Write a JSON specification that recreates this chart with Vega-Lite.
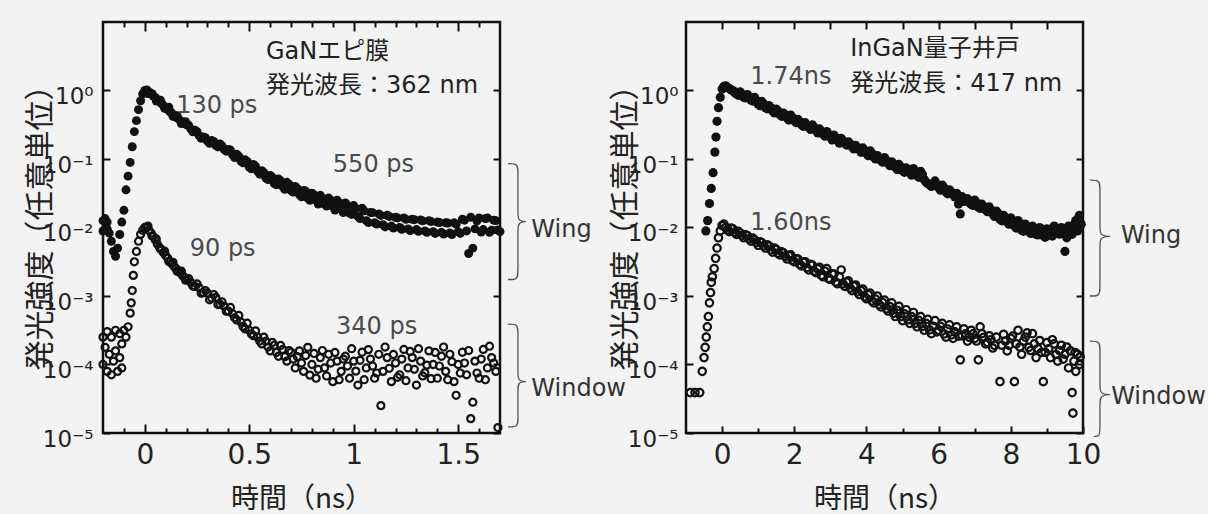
{
"$schema":"https://vega.github.io/schema/vega-lite/v6.json",
"background":"#f3f3f3",
"padding":{"left":23,"top":19,"right":0,"bottom":0},
"bounds":"flush",
"spacing":186,
"config":{"view":{"stroke":"#111","strokeWidth":2.5},"axis":{"domain":false,"grid":false,"tickColor":"#111","labelColor":"#222","labelFont":"DejaVu Sans","titleColor":"#222","titleFont":"Noto Sans CJK JP","titleFontWeight":"normal"}},
"datasets":{
"lw":[{"x":-0.2,"y":0.0126},{"x":-0.2,"y":0.0089},{"x":-0.19,"y":0.00955},{"x":-0.19,"y":0.0135},{"x":-0.18,"y":0.012},{"x":-0.18,"y":0.0095},{"x":-0.17,"y":0.0083},{"x":-0.16,"y":0.0063},{"x":-0.15,"y":0.00447},{"x":-0.14,"y":0.0038},{"x":-0.13,"y":0.005},{"x":-0.12,"y":0.0079},{"x":-0.11,"y":0.012},{"x":-0.1,"y":0.0178},{"x":-0.09,"y":0.0355},{"x":-0.08,"y":0.0562},{"x":-0.07,"y":0.0891},{"x":-0.06,"y":0.151},{"x":-0.05,"y":0.251},{"x":-0.04,"y":0.363},{"x":-0.03,"y":0.525},{"x":-0.02,"y":0.708},{"x":-0.01,"y":0.891},{"x":0,"y":1.0},{"x":0.01,"y":1.02},{"x":0.02,"y":0.955},{"x":0.03,"y":0.891},{"x":0.04,"y":0.832},{"x":0.05,"y":0.794},{"x":0.06,"y":0.741},{"x":0.07,"y":0.692},{"x":0.08,"y":0.646},{"x":0.09,"y":0.603},{"x":0.1,"y":0.562},{"x":0.11,"y":0.525},{"x":0.12,"y":0.49},{"x":0.13,"y":0.468},{"x":0.14,"y":0.437},{"x":0.15,"y":0.407},{"x":0.16,"y":0.389},{"x":0.17,"y":0.363},{"x":0.18,"y":0.347},{"x":0.19,"y":0.331},{"x":0.2,"y":0.316},{"x":0.22,"y":0.275},{"x":0.24,"y":0.263},{"x":0.26,"y":0.219},{"x":0.28,"y":0.209},{"x":0.3,"y":0.182},{"x":0.32,"y":0.186},{"x":0.34,"y":0.158},{"x":0.36,"y":0.166},{"x":0.38,"y":0.138},{"x":0.4,"y":0.138},{"x":0.42,"y":0.115},{"x":0.44,"y":0.117},{"x":0.46,"y":0.0933},{"x":0.48,"y":0.0977},{"x":0.5,"y":0.0759},{"x":0.52,"y":0.0832},{"x":0.54,"y":0.0661},{"x":0.56,"y":0.0676},{"x":0.58,"y":0.0525},{"x":0.6,"y":0.0575},{"x":0.62,"y":0.0437},{"x":0.64,"y":0.0513},{"x":0.66,"y":0.0398},{"x":0.68,"y":0.0457},{"x":0.7,"y":0.0347},{"x":0.72,"y":0.0398},{"x":0.74,"y":0.0302},{"x":0.76,"y":0.0347},{"x":0.78,"y":0.0269},{"x":0.8,"y":0.0316},{"x":0.82,"y":0.0251},{"x":0.84,"y":0.0295},{"x":0.86,"y":0.0219},{"x":0.88,"y":0.0269},{"x":0.9,"y":0.0204},{"x":0.92,"y":0.0251},{"x":0.94,"y":0.0186},{"x":0.96,"y":0.0229},{"x":0.98,"y":0.0162},{"x":1.0,"y":0.0209},{"x":1.02,"y":0.0145},{"x":1.04,"y":0.0191},{"x":1.06,"y":0.0126},{"x":1.08,"y":0.0166},{"x":1.1,"y":0.0117},{"x":1.12,"y":0.0158},{"x":1.14,"y":0.011},{"x":1.16,"y":0.0151},{"x":1.18,"y":0.0105},{"x":1.2,"y":0.0141},{"x":1.22,"y":0.01},{"x":1.24,"y":0.0138},{"x":1.26,"y":0.00955},{"x":1.28,"y":0.0132},{"x":1.3,"y":0.00933},{"x":1.32,"y":0.0129},{"x":1.34,"y":0.00891},{"x":1.36,"y":0.0126},{"x":1.38,"y":0.00871},{"x":1.4,"y":0.012},{"x":1.42,"y":0.00851},{"x":1.44,"y":0.0117},{"x":1.46,"y":0.00832},{"x":1.48,"y":0.0117},{"x":1.5,"y":0.00871},{"x":1.52,"y":0.0132},{"x":1.54,"y":0.00891},{"x":1.55,"y":0.00417},{"x":1.56,"y":0.0141},{"x":1.57,"y":0.005},{"x":1.58,"y":0.00955},{"x":1.6,"y":0.0138},{"x":1.62,"y":0.00933},{"x":1.64,"y":0.0138},{"x":1.66,"y":0.00912},{"x":1.68,"y":0.0126},{"x":1.7,"y":0.00871},
{"x":0.015,"y":0.9},{"x":0.035,"y":0.9},{"x":0.055,"y":0.7},{"x":0.075,"y":0.72},{"x":0.095,"y":0.55},{"x":0.115,"y":0.57},{"x":0.135,"y":0.42},{"x":0.155,"y":0.43},{"x":0.175,"y":0.33},{"x":0.195,"y":0.35},{"x":0.21,"y":0.31},{"x":0.23,"y":0.25},{"x":0.25,"y":0.25},{"x":0.27,"y":0.2},{"x":0.29,"y":0.205},{"x":0.31,"y":0.17},{"x":0.33,"y":0.18},{"x":0.35,"y":0.15},{"x":0.37,"y":0.155},{"x":0.39,"y":0.13},{"x":0.41,"y":0.135},{"x":0.43,"y":0.105},{"x":0.45,"y":0.11},{"x":0.47,"y":0.088},{"x":0.49,"y":0.092},{"x":0.51,"y":0.072},{"x":0.53,"y":0.078},{"x":0.55,"y":0.06},{"x":0.57,"y":0.063},{"x":0.59,"y":0.05},{"x":0.61,"y":0.054},{"x":0.63,"y":0.042},{"x":0.65,"y":0.048},{"x":0.67,"y":0.036},{"x":0.69,"y":0.043},{"x":0.71,"y":0.033},{"x":0.73,"y":0.037},{"x":0.75,"y":0.028},{"x":0.77,"y":0.034},{"x":0.79,"y":0.025},{"x":0.81,"y":0.03},{"x":0.83,"y":0.022},{"x":0.85,"y":0.027},{"x":0.87,"y":0.0205},{"x":0.89,"y":0.025},{"x":0.91,"y":0.018},{"x":0.93,"y":0.023},{"x":0.95,"y":0.0165},{"x":0.97,"y":0.021},{"x":0.99,"y":0.0155},{"x":1.01,"y":0.019},{"x":1.03,"y":0.0135},{"x":1.05,"y":0.0175},{"x":1.07,"y":0.0118},{"x":1.09,"y":0.0165},{"x":1.11,"y":0.0112},{"x":1.13,"y":0.015},{"x":1.15,"y":0.0102},{"x":1.17,"y":0.0145},{"x":1.19,"y":0.0098},{"x":1.21,"y":0.0138},{"x":1.23,"y":0.0094},{"x":1.25,"y":0.0132},{"x":1.27,"y":0.009},{"x":1.29,"y":0.013},{"x":1.31,"y":0.0088},{"x":1.33,"y":0.0125},{"x":1.35,"y":0.0085},{"x":1.37,"y":0.0122},{"x":1.39,"y":0.0082},{"x":1.41,"y":0.0118},{"x":1.43,"y":0.008},{"x":1.45,"y":0.0116},{"x":1.47,"y":0.0079},{"x":1.49,"y":0.0112},{"x":1.51,"y":0.0082},{"x":1.53,"y":0.0128},{"x":1.59,"y":0.0125},{"x":1.61,"y":0.0086},{"x":1.63,"y":0.0135},{"x":1.65,"y":0.0085},{"x":1.67,"y":0.0128},{"x":1.69,"y":0.0092}],
"lo":[{"x":-0.2,"y":0.000251},{"x":-0.2,"y":0.0001},{"x":-0.19,"y":0.000178},{"x":-0.18,"y":0.000302},{"x":-0.18,"y":0.0000794},{"x":-0.17,"y":0.000141},{"x":-0.16,"y":0.000251},{"x":-0.16,"y":0.0000708},{"x":-0.15,"y":0.000112},{"x":-0.14,"y":0.000316},{"x":-0.14,"y":0.000158},{"x":-0.13,"y":0.0000794},{"x":-0.12,"y":0.000282},{"x":-0.12,"y":0.000126},{"x":-0.11,"y":0.0002},{"x":-0.11,"y":0.0000891},{"x":-0.1,"y":0.000316},{"x":-0.09,"y":0.000251},{"x":-0.08,"y":0.000355},{"x":-0.07,"y":0.000562},{"x":-0.065,"y":0.000794},{"x":-0.06,"y":0.0012},{"x":-0.055,"y":0.002},{"x":-0.05,"y":0.00316},{"x":-0.04,"y":0.00447},{"x":-0.03,"y":0.00631},{"x":-0.02,"y":0.00794},{"x":-0.01,"y":0.00912},{"x":0,"y":0.01},{"x":0.01,"y":0.01},{"x":0.02,"y":0.00912},{"x":0.03,"y":0.00832},{"x":0.04,"y":0.00741},{"x":0.05,"y":0.00661},{"x":0.06,"y":0.00575},{"x":0.07,"y":0.00513},{"x":0.08,"y":0.00468},{"x":0.09,"y":0.00427},{"x":0.1,"y":0.00389},{"x":0.11,"y":0.00355},{"x":0.12,"y":0.00316},{"x":0.13,"y":0.00295},{"x":0.14,"y":0.00269},{"x":0.15,"y":0.00251},{"x":0.16,"y":0.00229},{"x":0.17,"y":0.00219},{"x":0.18,"y":0.002},{"x":0.19,"y":0.00186},{"x":0.2,"y":0.00174},{"x":0.22,"y":0.00158},{"x":0.24,"y":0.00138},{"x":0.26,"y":0.00132},{"x":0.28,"y":0.00112},{"x":0.3,"y":0.0011},{"x":0.32,"y":0.000933},{"x":0.34,"y":0.000955},{"x":0.36,"y":0.000759},{"x":0.38,"y":0.000708},{"x":0.4,"y":0.000603},{"x":0.42,"y":0.00055},{"x":0.44,"y":0.000447},{"x":0.46,"y":0.000417},{"x":0.48,"y":0.000331},{"x":0.5,"y":0.000316},{"x":0.52,"y":0.000263},{"x":0.54,"y":0.000251},{"x":0.56,"y":0.0002},{"x":0.58,"y":0.000219},{"x":0.6,"y":0.000158},{"x":0.62,"y":0.000191},{"x":0.64,"y":0.000132},{"x":0.66,"y":0.000166},{"x":0.68,"y":0.000112},{"x":0.7,"y":0.000151},{"x":0.72,"y":0.0000891},{"x":0.74,"y":0.000158},{"x":0.76,"y":0.0000794},{"x":0.78,"y":0.000178},{"x":0.8,"y":0.0001},{"x":0.82,"y":0.0000631},{"x":0.84,"y":0.000126},{"x":0.86,"y":0.0000891},{"x":0.88,"y":0.000141},{"x":0.9,"y":0.0000562},{"x":0.92,"y":0.000112},{"x":0.94,"y":0.0000794},{"x":0.96,"y":0.000132},{"x":0.98,"y":0.0000631},{"x":1.0,"y":0.000112},{"x":1.02,"y":0.0000501},{"x":1.04,"y":0.000151},{"x":1.06,"y":0.0000891},{"x":1.08,"y":0.00012},{"x":1.1,"y":0.0000631},{"x":1.12,"y":0.000141},{"x":1.13,"y":0.0000251},{"x":1.14,"y":0.0000794},{"x":1.16,"y":0.000126},{"x":1.18,"y":0.0000562},{"x":1.2,"y":0.000105},{"x":1.22,"y":0.0000708},{"x":1.24,"y":0.000166},{"x":1.26,"y":0.0000891},{"x":1.28,"y":0.000126},{"x":1.3,"y":0.0000501},{"x":1.32,"y":0.000112},{"x":1.34,"y":0.0000759},{"x":1.36,"y":0.000158},{"x":1.38,"y":0.0001},{"x":1.4,"y":0.0000631},{"x":1.42,"y":0.000132},{"x":1.44,"y":0.0000794},{"x":1.46,"y":0.000141},{"x":1.48,"y":0.0000562},{"x":1.49,"y":0.0000355},{"x":1.5,"y":0.0001},{"x":1.52,"y":0.000151},{"x":1.54,"y":0.0000708},{"x":1.56,"y":0.0000162},{"x":1.57,"y":0.0000282},{"x":1.58,"y":0.000112},{"x":1.6,"y":0.0000631},{"x":1.62,"y":0.000166},{"x":1.64,"y":0.0000891},{"x":1.66,"y":0.000126},{"x":1.68,"y":0.0000794},{"x":1.69,"y":0.000012},
{"x":0.015,"y":0.0105},{"x":0.035,"y":0.0075},{"x":0.055,"y":0.0068},{"x":0.075,"y":0.0049},{"x":0.095,"y":0.0045},{"x":0.115,"y":0.0032},{"x":0.135,"y":0.0031},{"x":0.155,"y":0.0023},{"x":0.175,"y":0.0023},{"x":0.195,"y":0.0017},{"x":0.21,"y":0.0018},{"x":0.23,"y":0.0014},{"x":0.25,"y":0.0015},{"x":0.27,"y":0.0011},{"x":0.29,"y":0.0012},{"x":0.31,"y":0.00088},{"x":0.33,"y":0.00105},{"x":0.35,"y":0.00075},{"x":0.37,"y":0.00082},{"x":0.39,"y":0.0006},{"x":0.41,"y":0.00068},{"x":0.43,"y":0.00048},{"x":0.45,"y":0.00052},{"x":0.47,"y":0.00036},{"x":0.49,"y":0.0004},{"x":0.51,"y":0.00028},{"x":0.53,"y":0.00031},{"x":0.55,"y":0.00022},{"x":0.57,"y":0.00025},{"x":0.59,"y":0.00018},{"x":0.61,"y":0.00021},{"x":0.63,"y":0.00015},{"x":0.65,"y":0.00019},{"x":0.67,"y":0.00013},{"x":0.69,"y":0.00016},{"x":0.71,"y":0.00012},{"x":0.73,"y":0.00013},{"x":0.75,"y":0.000105},{"x":0.77,"y":0.000135},{"x":0.79,"y":0.00007},{"x":0.81,"y":0.000145},{"x":0.83,"y":0.000085},{"x":0.85,"y":0.00016},{"x":0.87,"y":0.000068},{"x":0.89,"y":0.000105},{"x":0.91,"y":0.00015},{"x":0.93,"y":0.00006},{"x":0.95,"y":0.00012},{"x":0.97,"y":0.000095},{"x":0.99,"y":0.00017},{"x":1.01,"y":0.00008},{"x":1.03,"y":0.000115},{"x":1.05,"y":0.00006},{"x":1.07,"y":0.000165},{"x":1.09,"y":0.000095},{"x":1.11,"y":0.000075},{"x":1.15,"y":0.00018},{"x":1.17,"y":0.000088},{"x":1.19,"y":0.00014},{"x":1.21,"y":0.000065},{"x":1.23,"y":0.00012},{"x":1.25,"y":0.000058},{"x":1.27,"y":0.000155},{"x":1.29,"y":0.000085},{"x":1.31,"y":0.00017},{"x":1.33,"y":0.000068},{"x":1.35,"y":0.000098},{"x":1.37,"y":0.000062},{"x":1.39,"y":0.00015},{"x":1.41,"y":0.000095},{"x":1.43,"y":0.00018},{"x":1.45,"y":0.00006},{"x":1.47,"y":0.00011},{"x":1.51,"y":0.000075},{"x":1.53,"y":0.000105},{"x":1.55,"y":0.00016},{"x":1.59,"y":0.000075},{"x":1.61,"y":0.00012},{"x":1.63,"y":0.00006},{"x":1.65,"y":0.000185},{"x":1.67,"y":0.000105}],
"rw":[{"x":-0.45,"y":0.00891},{"x":-0.4,"y":0.0126},{"x":-0.35,"y":0.0224},{"x":-0.3,"y":0.0372},{"x":-0.25,"y":0.0631},{"x":-0.2,"y":0.126},{"x":-0.17,"y":0.209},{"x":-0.14,"y":0.355},{"x":-0.1,"y":0.562},{"x":-0.05,"y":0.794},{"x":0,"y":1.05},{"x":0.05,"y":1.15},{"x":0.1,"y":1.17},{"x":0.2,"y":1.07},{"x":0.3,"y":1.0},{"x":0.4,"y":0.891},{"x":0.5,"y":0.955},{"x":0.6,"y":0.794},{"x":0.7,"y":0.871},{"x":0.8,"y":0.724},{"x":0.9,"y":0.794},{"x":1.0,"y":0.631},{"x":1.1,"y":0.692},{"x":1.2,"y":0.562},{"x":1.3,"y":0.603},{"x":1.4,"y":0.501},{"x":1.5,"y":0.537},{"x":1.6,"y":0.447},{"x":1.7,"y":0.468},{"x":1.8,"y":0.398},{"x":1.9,"y":0.437},{"x":2.0,"y":0.363},{"x":2.1,"y":0.38},{"x":2.2,"y":0.316},{"x":2.3,"y":0.339},{"x":2.4,"y":0.288},{"x":2.5,"y":0.316},{"x":2.6,"y":0.263},{"x":2.7,"y":0.275},{"x":2.8,"y":0.229},{"x":2.9,"y":0.251},{"x":3.0,"y":0.209},{"x":3.1,"y":0.224},{"x":3.2,"y":0.186},{"x":3.3,"y":0.2},{"x":3.4,"y":0.17},{"x":3.5,"y":0.178},{"x":3.6,"y":0.151},{"x":3.7,"y":0.158},{"x":3.8,"y":0.138},{"x":3.9,"y":0.145},{"x":4.0,"y":0.12},{"x":4.1,"y":0.132},{"x":4.2,"y":0.107},{"x":4.3,"y":0.112},{"x":4.4,"y":0.0955},{"x":4.5,"y":0.105},{"x":4.6,"y":0.0871},{"x":4.7,"y":0.0912},{"x":4.8,"y":0.0759},{"x":4.9,"y":0.0832},{"x":5.0,"y":0.0676},{"x":5.1,"y":0.0741},{"x":5.2,"y":0.0631},{"x":5.3,"y":0.0724},{"x":5.4,"y":0.0575},{"x":5.5,"y":0.0661},{"x":5.6,"y":0.0501},{"x":5.7,"y":0.0437},{"x":5.8,"y":0.0398},{"x":5.9,"y":0.0479},{"x":6.0,"y":0.038},{"x":6.1,"y":0.0417},{"x":6.2,"y":0.0331},{"x":6.3,"y":0.0355},{"x":6.4,"y":0.0302},{"x":6.5,"y":0.0316},{"x":6.6,"y":0.0158},{"x":6.65,"y":0.0282},{"x":6.7,"y":0.024},{"x":6.8,"y":0.0263},{"x":6.9,"y":0.0219},{"x":7.0,"y":0.0251},{"x":7.1,"y":0.02},{"x":7.2,"y":0.0219},{"x":7.3,"y":0.0182},{"x":7.4,"y":0.02},{"x":7.5,"y":0.0158},{"x":7.6,"y":0.0174},{"x":7.7,"y":0.0132},{"x":7.8,"y":0.0151},{"x":7.9,"y":0.012},{"x":8.0,"y":0.0138},{"x":8.1,"y":0.0105},{"x":8.2,"y":0.0126},{"x":8.3,"y":0.00912},{"x":8.4,"y":0.0112},{"x":8.5,"y":0.00871},{"x":8.6,"y":0.0105},{"x":8.7,"y":0.00794},{"x":8.8,"y":0.01},{"x":8.9,"y":0.00759},{"x":9.0,"y":0.00955},{"x":9.1,"y":0.00794},{"x":9.2,"y":0.0105},{"x":9.3,"y":0.00832},{"x":9.4,"y":0.01},{"x":9.5,"y":0.00447},{"x":9.55,"y":0.00708},{"x":9.6,"y":0.0105},{"x":9.7,"y":0.00794},{"x":9.8,"y":0.0126},{"x":9.85,"y":0.00891},{"x":9.9,"y":0.0151},{"x":9.95,"y":0.0112},
{"x":0.15,"y":1.1},{"x":0.25,"y":1.02},{"x":0.35,"y":0.93},{"x":0.45,"y":0.85},{"x":0.55,"y":0.88},{"x":0.65,"y":0.78},{"x":0.75,"y":0.8},{"x":0.85,"y":0.7},{"x":0.95,"y":0.72},{"x":1.05,"y":0.6},{"x":1.15,"y":0.64},{"x":1.25,"y":0.54},{"x":1.35,"y":0.56},{"x":1.45,"y":0.47},{"x":1.55,"y":0.5},{"x":1.65,"y":0.42},{"x":1.75,"y":0.44},{"x":1.85,"y":0.37},{"x":1.95,"y":0.4},{"x":2.05,"y":0.34},{"x":2.15,"y":0.35},{"x":2.25,"y":0.3},{"x":2.35,"y":0.31},{"x":2.45,"y":0.27},{"x":2.55,"y":0.29},{"x":2.65,"y":0.24},{"x":2.75,"y":0.255},{"x":2.85,"y":0.215},{"x":2.95,"y":0.23},{"x":3.05,"y":0.19},{"x":3.15,"y":0.205},{"x":3.25,"y":0.17},{"x":3.35,"y":0.185},{"x":3.45,"y":0.16},{"x":3.55,"y":0.165},{"x":3.65,"y":0.14},{"x":3.75,"y":0.148},{"x":3.85,"y":0.125},{"x":3.95,"y":0.133},{"x":4.05,"y":0.112},{"x":4.15,"y":0.12},{"x":4.25,"y":0.1},{"x":4.35,"y":0.104},{"x":4.45,"y":0.09},{"x":4.55,"y":0.096},{"x":4.65,"y":0.08},{"x":4.75,"y":0.085},{"x":4.85,"y":0.07},{"x":4.95,"y":0.077},{"x":5.05,"y":0.064},{"x":5.15,"y":0.07},{"x":5.25,"y":0.058},{"x":5.35,"y":0.066},{"x":5.45,"y":0.054},{"x":5.55,"y":0.06},{"x":5.65,"y":0.046},{"x":5.75,"y":0.042},{"x":5.85,"y":0.044},{"x":5.95,"y":0.042},{"x":6.05,"y":0.035},{"x":6.15,"y":0.038},{"x":6.25,"y":0.031},{"x":6.35,"y":0.033},{"x":6.45,"y":0.028},{"x":6.55,"y":0.022},{"x":6.75,"y":0.025},{"x":6.85,"y":0.023},{"x":6.95,"y":0.021},{"x":7.05,"y":0.023},{"x":7.15,"y":0.019},{"x":7.25,"y":0.02},{"x":7.35,"y":0.017},{"x":7.45,"y":0.018},{"x":7.55,"y":0.0145},{"x":7.65,"y":0.016},{"x":7.75,"y":0.0125},{"x":7.85,"y":0.014},{"x":7.95,"y":0.0112},{"x":8.05,"y":0.0128},{"x":8.15,"y":0.0098},{"x":8.25,"y":0.0115},{"x":8.35,"y":0.0088},{"x":8.45,"y":0.0102},{"x":8.55,"y":0.0082},{"x":8.65,"y":0.0095},{"x":8.75,"y":0.0078},{"x":8.85,"y":0.0092},{"x":8.95,"y":0.0072},{"x":9.05,"y":0.0088},{"x":9.15,"y":0.0075},{"x":9.25,"y":0.0095},{"x":9.35,"y":0.008},{"x":9.45,"y":0.0085},{"x":9.65,"y":0.0092},{"x":9.75,"y":0.011},{"x":9.88,"y":0.0135}],
"ro":[{"x":-0.88,"y":0.0000389},{"x":-0.75,"y":0.0000389},{"x":-0.62,"y":0.0000389},{"x":-0.55,"y":0.0000794},{"x":-0.5,"y":0.000126},{"x":-0.47,"y":0.000178},{"x":-0.44,"y":0.000251},{"x":-0.41,"y":0.000355},{"x":-0.38,"y":0.000501},{"x":-0.35,"y":0.000794},{"x":-0.32,"y":0.00112},{"x":-0.3,"y":0.00158},{"x":-0.27,"y":0.00191},{"x":-0.22,"y":0.00251},{"x":-0.18,"y":0.00355},{"x":-0.14,"y":0.00501},{"x":-0.1,"y":0.00708},{"x":-0.05,"y":0.00891},{"x":0,"y":0.0107},{"x":0.05,"y":0.0112},{"x":0.1,"y":0.01},{"x":0.2,"y":0.00871},{"x":0.3,"y":0.00955},{"x":0.4,"y":0.00794},{"x":0.5,"y":0.00832},{"x":0.6,"y":0.00708},{"x":0.7,"y":0.00759},{"x":0.8,"y":0.00631},{"x":0.9,"y":0.00661},{"x":1.0,"y":0.0055},{"x":1.1,"y":0.00603},{"x":1.2,"y":0.00501},{"x":1.3,"y":0.00537},{"x":1.4,"y":0.00437},{"x":1.5,"y":0.00479},{"x":1.6,"y":0.00398},{"x":1.7,"y":0.00427},{"x":1.8,"y":0.00347},{"x":1.9,"y":0.00398},{"x":2.0,"y":0.00316},{"x":2.1,"y":0.00347},{"x":2.2,"y":0.00275},{"x":2.3,"y":0.00316},{"x":2.4,"y":0.0024},{"x":2.5,"y":0.00282},{"x":2.6,"y":0.00219},{"x":2.7,"y":0.00263},{"x":2.8,"y":0.00191},{"x":2.9,"y":0.00251},{"x":3.0,"y":0.00174},{"x":3.1,"y":0.00209},{"x":3.2,"y":0.00151},{"x":3.3,"y":0.0024},{"x":3.4,"y":0.00138},{"x":3.5,"y":0.00166},{"x":3.6,"y":0.0012},{"x":3.7,"y":0.00145},{"x":3.8,"y":0.00105},{"x":3.9,"y":0.00126},{"x":4.0,"y":0.000912},{"x":4.1,"y":0.0011},{"x":4.2,"y":0.000794},{"x":4.3,"y":0.001},{"x":4.4,"y":0.000692},{"x":4.5,"y":0.000871},{"x":4.6,"y":0.000603},{"x":4.7,"y":0.000794},{"x":4.8,"y":0.000501},{"x":4.9,"y":0.000708},{"x":5.0,"y":0.000437},{"x":5.1,"y":0.000631},{"x":5.2,"y":0.000398},{"x":5.3,"y":0.000575},{"x":5.4,"y":0.000355},{"x":5.5,"y":0.000501},{"x":5.6,"y":0.000316},{"x":5.7,"y":0.000457},{"x":5.8,"y":0.000282},{"x":5.9,"y":0.000437},{"x":6.0,"y":0.000316},{"x":6.1,"y":0.000398},{"x":6.2,"y":0.000251},{"x":6.3,"y":0.00038},{"x":6.4,"y":0.00024},{"x":6.5,"y":0.000355},{"x":6.6,"y":0.000117},{"x":6.65,"y":0.000263},{"x":6.7,"y":0.000331},{"x":6.8,"y":0.000219},{"x":6.9,"y":0.000316},{"x":7.0,"y":0.00024},{"x":7.1,"y":0.000117},{"x":7.15,"y":0.000355},{"x":7.2,"y":0.000282},{"x":7.3,"y":0.0002},{"x":7.4,"y":0.000263},{"x":7.5,"y":0.000174},{"x":7.6,"y":0.000251},{"x":7.7,"y":0.0000562},{"x":7.75,"y":0.000191},{"x":7.8,"y":0.000275},{"x":7.9,"y":0.000158},{"x":8.0,"y":0.00024},{"x":8.1,"y":0.0000562},{"x":8.15,"y":0.0002},{"x":8.2,"y":0.000316},{"x":8.3,"y":0.000141},{"x":8.4,"y":0.000251},{"x":8.5,"y":0.000178},{"x":8.6,"y":0.000282},{"x":8.7,"y":0.000126},{"x":8.8,"y":0.000224},{"x":8.9,"y":0.0000562},{"x":8.95,"y":0.000151},{"x":9.0,"y":0.000209},{"x":9.1,"y":0.000126},{"x":9.2,"y":0.0002},{"x":9.3,"y":0.000112},{"x":9.4,"y":0.000191},{"x":9.5,"y":0.000141},{"x":9.6,"y":0.0000891},{"x":9.65,"y":0.000158},{"x":9.7,"y":0.0000389},{"x":9.72,"y":0.0000195},{"x":9.75,"y":0.000112},{"x":9.8,"y":0.0000794},{"x":9.85,"y":0.000141},{"x":9.9,"y":0.0001},
{"x":0.15,"y":0.0092},{"x":0.25,"y":0.0098},{"x":0.35,"y":0.0085},{"x":0.45,"y":0.0088},{"x":0.55,"y":0.0076},{"x":0.65,"y":0.0078},{"x":0.75,"y":0.0068},{"x":0.85,"y":0.007},{"x":0.95,"y":0.006},{"x":1.05,"y":0.0062},{"x":1.15,"y":0.0054},{"x":1.25,"y":0.0056},{"x":1.35,"y":0.0047},{"x":1.45,"y":0.005},{"x":1.55,"y":0.0042},{"x":1.65,"y":0.0044},{"x":1.75,"y":0.0038},{"x":1.85,"y":0.0039},{"x":1.95,"y":0.0033},{"x":2.05,"y":0.0035},{"x":2.15,"y":0.0029},{"x":2.25,"y":0.0031},{"x":2.35,"y":0.0026},{"x":2.45,"y":0.0029},{"x":2.55,"y":0.0023},{"x":2.65,"y":0.0025},{"x":2.75,"y":0.002},{"x":2.85,"y":0.0023},{"x":2.95,"y":0.0018},{"x":3.05,"y":0.0021},{"x":3.15,"y":0.0016},{"x":3.25,"y":0.0019},{"x":3.35,"y":0.0015},{"x":3.45,"y":0.0016},{"x":3.55,"y":0.0013},{"x":3.65,"y":0.0014},{"x":3.75,"y":0.00115},{"x":3.85,"y":0.0012},{"x":3.95,"y":0.00098},{"x":4.05,"y":0.00105},{"x":4.15,"y":0.00085},{"x":4.25,"y":0.0009},{"x":4.35,"y":0.00075},{"x":4.45,"y":0.0008},{"x":4.55,"y":0.00065},{"x":4.65,"y":0.0007},{"x":4.75,"y":0.00056},{"x":4.85,"y":0.00062},{"x":4.95,"y":0.0005},{"x":5.05,"y":0.00055},{"x":5.15,"y":0.00045},{"x":5.25,"y":0.0005},{"x":5.35,"y":0.0004},{"x":5.45,"y":0.00044},{"x":5.55,"y":0.00036},{"x":5.65,"y":0.0004},{"x":5.75,"y":0.00032},{"x":5.85,"y":0.00036},{"x":5.95,"y":0.0003},{"x":6.05,"y":0.00036},{"x":6.15,"y":0.00028},{"x":6.25,"y":0.00033},{"x":6.35,"y":0.00027},{"x":6.45,"y":0.0003},{"x":6.55,"y":0.00026},{"x":6.75,"y":0.00028},{"x":6.85,"y":0.00025},{"x":6.95,"y":0.00028},{"x":7.05,"y":0.00022},{"x":7.25,"y":0.00025},{"x":7.35,"y":0.00021},{"x":7.45,"y":0.00023},{"x":7.55,"y":0.00019},{"x":7.85,"y":0.00022},{"x":7.95,"y":0.00019},{"x":8.05,"y":0.00026},{"x":8.25,"y":0.00018},{"x":8.35,"y":0.00022},{"x":8.45,"y":0.00029},{"x":8.55,"y":0.00016},{"x":8.65,"y":0.0002},{"x":8.75,"y":0.00017},{"x":8.85,"y":0.00015},{"x":9.05,"y":0.00017},{"x":9.15,"y":0.00023},{"x":9.25,"y":0.00014},{"x":9.35,"y":0.00016},{"x":9.45,"y":0.00012},{"x":9.55,"y":0.00018},{"x":9.78,"y":0.00015},{"x":9.92,"y":0.00013}],
"lbr":[{"b":"w","i":1,"x":1.738,"y":0.0857},{"b":"w","i":2,"x":1.786,"y":0.0857},{"b":"w","i":3,"x":1.786,"y":0.0646},{"b":"w","i":4,"x":1.786,"y":0.0162},{"b":"w","i":5,"x":1.786,"y":0.01216},{"b":"w","i":6,"x":1.843,"y":0.01216},{"b":"w","i":7,"x":1.786,"y":0.01216},{"b":"w","i":8,"x":1.786,"y":0.00912},{"b":"w","i":9,"x":1.786,"y":0.00229},{"b":"w","i":10,"x":1.786,"y":0.00174},{"b":"w","i":11,"x":1.738,"y":0.00174},
{"b":"o","i":1,"x":1.738,"y":0.000389},{"b":"o","i":2,"x":1.786,"y":0.000389},{"b":"o","i":3,"x":1.786,"y":0.000295},{"b":"o","i":4,"x":1.786,"y":0.0000741},{"b":"o","i":5,"x":1.786,"y":0.0000562},{"b":"o","i":6,"x":1.843,"y":0.0000562},{"b":"o","i":7,"x":1.786,"y":0.0000562},{"b":"o","i":8,"x":1.786,"y":0.0000447},{"b":"o","i":9,"x":1.786,"y":0.0000155},{"b":"o","i":10,"x":1.786,"y":0.0000123},{"b":"o","i":11,"x":1.738,"y":0.0000123}],
"rbr":[{"b":"w","i":1,"x":10.19,"y":0.049},{"b":"w","i":2,"x":10.47,"y":0.049},{"b":"w","i":3,"x":10.47,"y":0.0372},{"b":"w","i":4,"x":10.47,"y":0.00977},{"b":"w","i":5,"x":10.47,"y":0.00741},{"b":"w","i":6,"x":10.89,"y":0.00741},{"b":"w","i":7,"x":10.47,"y":0.00741},{"b":"w","i":8,"x":10.47,"y":0.00562},{"b":"w","i":9,"x":10.47,"y":0.00132},{"b":"w","i":10,"x":10.47,"y":0.001},{"b":"w","i":11,"x":10.19,"y":0.001},
{"b":"o","i":1,"x":10.19,"y":0.000219},{"b":"o","i":2,"x":10.47,"y":0.000219},{"b":"o","i":3,"x":10.47,"y":0.000166},{"b":"o","i":4,"x":10.47,"y":0.0000479},{"b":"o","i":5,"x":10.47,"y":0.0000363},{"b":"o","i":6,"x":10.89,"y":0.0000363},{"b":"o","i":7,"x":10.47,"y":0.0000363},{"b":"o","i":8,"x":10.47,"y":0.0000275},{"b":"o","i":9,"x":10.47,"y":0.0000117},{"b":"o","i":10,"x":10.47,"y":0.00000891},{"b":"o","i":11,"x":10.3,"y":0.00000891}],
"lhdr":[{"x":0.58,"y":3.7,"t":"GaNエピ膜"},{"x":0.58,"y":1.15,"t":"発光波長：362 nm"}],
"rhdr":[{"x":3.55,"y":4.0,"t":"InGaN量子井戸"},{"x":3.55,"y":1.23,"t":"発光波長：417 nm"}],
"ltau":[{"x":0.15,"y":0.59,"t":"130 ps"},{"x":0.9,"y":0.083,"t":"550 ps"},{"x":0.215,"y":0.0049,"t":"90 ps"},{"x":0.915,"y":0.000355,"t":"340 ps"}],
"rtau":[{"x":0.78,"y":1.55,"t":"1.74ns"},{"x":0.78,"y":0.0118,"t":"1.60ns"}],
"lside":[{"x":1.85,"y":0.0093,"t":"Wing"},{"x":1.85,"y":0.000044,"t":"Window"}],
"rside":[{"x":11.05,"y":0.0074,"t":"Wing"},{"x":10.78,"y":0.000034,"t":"Window"}]
},
"hconcat":[
{"width":397,"height":411,
"resolve":{"axis":{"x":"independent","y":"independent"}},
"layer":[
{"data":{"name":"lw"},"mark":{"type":"point","shape":"circle","filled":true,"size":80,"color":"#111","opacity":1},
"encoding":{
"x":{"field":"x","type":"quantitative","scale":{"domain":[-0.2,1.7],"nice":false,"zero":false},"axis":{"orient":"bottom","values":[0,0.5,1,1.5],"format":"~r","tickSize":-9,"tickWidth":2,"labelFontSize":28,"labelPadding":17,"labelFlush":false,"title":"時間（ns）","titleFontSize":28,"titleY":66,"titleBaseline":"middle"}},
"y":{"field":"y","type":"quantitative","scale":{"type":"log","domain":[0.00001,10],"nice":false},"axis":{"orient":"left","values":[0.00001,0.0001,0.001,0.01,0.1,1],"labelExpr":"datum.value > 0.5 ? '10⁰' : datum.value > 0.05 ? '10⁻¹' : datum.value > 0.005 ? '10⁻²' : datum.value > 0.0005 ? '10⁻³' : datum.value > 0.00005 ? '10⁻⁴' : '10⁻⁵'","tickSize":-7,"tickWidth":2,"labelFontSize":23,"labelPadding":17,"labelBaseline":"middle","labelOffset":6,"labelFlush":false,"title":"発光強度（任意単位）","titleFontSize":30,"titleX":-63,"titleY":198,"titleAngle":-90,"titleBaseline":"middle","titleAlign":"center"}}}},
{"data":{"name":"lo"},"mark":{"type":"point","shape":"circle","filled":false,"size":50,"stroke":"#111","strokeWidth":2.2,"opacity":1},
"encoding":{
"x":{"field":"x","type":"quantitative","scale":{"domain":[-0.2,1.7],"nice":false,"zero":false},"axis":{"orient":"top","values":[0,0.5,1,1.5],"tickSize":-9,"tickWidth":2,"labels":false,"title":null}},
"y":{"field":"y","type":"quantitative","scale":{"type":"log","domain":[0.00001,10],"nice":false},"axis":{"orient":"right","values":[0.00001,0.0001,0.001,0.01,0.1,1],"tickSize":-7,"tickWidth":2,"labels":false,"title":null}}}},
{"data":{"name":"lbr"},"mark":{"type":"line","interpolate":"basis","stroke":"#555","strokeWidth":1.3},
"encoding":{
"x":{"field":"x","type":"quantitative","scale":{"domain":[-0.2,1.7],"nice":false,"zero":false},"axis":{"orient":"bottom","values":[-0.1,0.1,0.2,0.3,0.4,0.6,0.7,0.8,0.9,1.1,1.2,1.3,1.4,1.6],"tickSize":-5,"tickWidth":2,"labels":false,"title":null}},
"y":{"field":"y","type":"quantitative","scale":{"type":"log","domain":[0.00001,10],"nice":false},"axis":null},
"order":{"field":"i","type":"quantitative"},"detail":{"field":"b"}}},
{"data":{"name":"lhdr"},"mark":{"type":"text","align":"left","baseline":"middle","font":"DejaVu Sans, Noto Sans CJK JP","fontSize":24,"color":"#222"},
"encoding":{
"x":{"field":"x","type":"quantitative","scale":{"domain":[-0.2,1.7],"nice":false,"zero":false},"axis":{"orient":"top","values":[-0.1,0.1,0.2,0.3,0.4,0.6,0.7,0.8,0.9,1.1,1.2,1.3,1.4,1.6],"tickSize":-5,"tickWidth":2,"labels":false,"title":null}},
"y":{"field":"y","type":"quantitative","scale":{"type":"log","domain":[0.00001,10],"nice":false},"axis":null},
"text":{"field":"t"}}},
{"data":{"name":"ltau"},"mark":{"type":"text","align":"left","baseline":"middle","font":"DejaVu Sans","fontSize":24,"color":"#4a4a4a"},
"encoding":{
"x":{"field":"x","type":"quantitative","scale":{"domain":[-0.2,1.7],"nice":false,"zero":false},"axis":null},
"y":{"field":"y","type":"quantitative","scale":{"type":"log","domain":[0.00001,10],"nice":false},"axis":null},
"text":{"field":"t"}}},
{"data":{"name":"lside"},"mark":{"type":"text","align":"left","baseline":"middle","font":"DejaVu Sans","fontSize":24,"color":"#333"},
"encoding":{
"x":{"field":"x","type":"quantitative","scale":{"domain":[-0.2,1.7],"nice":false,"zero":false},"axis":null},
"y":{"field":"y","type":"quantitative","scale":{"type":"log","domain":[0.00001,10],"nice":false},"axis":null},
"text":{"field":"t"}}}
]},
{"width":397,"height":411,
"resolve":{"axis":{"x":"independent","y":"independent"}},
"layer":[
{"data":{"name":"rw"},"mark":{"type":"point","shape":"circle","filled":true,"size":85,"color":"#111","opacity":1},
"encoding":{
"x":{"field":"x","type":"quantitative","scale":{"domain":[-1,10],"nice":false,"zero":false},"axis":{"orient":"bottom","values":[0,2,4,6,8,10],"format":"d","tickSize":-7,"tickWidth":2,"labelFontSize":28,"labelPadding":15,"labelFlush":false,"title":"時間（ns）","titleFontSize":28,"titleY":66,"titleBaseline":"middle"}},
"y":{"field":"y","type":"quantitative","scale":{"type":"log","domain":[0.00001,10],"nice":false},"axis":{"orient":"left","values":[0.00001,0.0001,0.001,0.01,0.1,1],"labelExpr":"datum.value > 0.5 ? '10⁰' : datum.value > 0.05 ? '10⁻¹' : datum.value > 0.005 ? '10⁻²' : datum.value > 0.0005 ? '10⁻³' : datum.value > 0.00005 ? '10⁻⁴' : '10⁻⁵'","tickSize":-7,"tickWidth":2,"labelFontSize":23,"labelPadding":15,"labelBaseline":"middle","labelOffset":6,"labelFlush":false,"title":"発光強度（任意単位）","titleFontSize":30,"titleX":-61,"titleY":198,"titleAngle":-90,"titleBaseline":"middle","titleAlign":"center"}}}},
{"data":{"name":"ro"},"mark":{"type":"point","shape":"circle","filled":false,"size":55,"stroke":"#111","strokeWidth":2.2,"opacity":1},
"encoding":{
"x":{"field":"x","type":"quantitative","scale":{"domain":[-1,10],"nice":false,"zero":false},"axis":{"orient":"top","values":[0,1,2,3,4,5,6,7,8,9],"tickSize":-7,"tickWidth":2,"labels":false,"title":null}},
"y":{"field":"y","type":"quantitative","scale":{"type":"log","domain":[0.00001,10],"nice":false},"axis":{"orient":"right","values":[0.00001,0.0001,0.001,0.01,0.1,1],"tickSize":-7,"tickWidth":2,"labels":false,"title":null}}}},
{"data":{"name":"rbr"},"mark":{"type":"line","interpolate":"basis","stroke":"#555","strokeWidth":1.3},
"encoding":{
"x":{"field":"x","type":"quantitative","scale":{"domain":[-1,10],"nice":false,"zero":false},"axis":{"orient":"bottom","values":[1,3,5,7,9],"tickSize":-5,"tickWidth":2,"labels":false,"title":null}},
"y":{"field":"y","type":"quantitative","scale":{"type":"log","domain":[0.00001,10],"nice":false},"axis":null},
"order":{"field":"i","type":"quantitative"},"detail":{"field":"b"}}},
{"data":{"name":"rhdr"},"mark":{"type":"text","align":"left","baseline":"middle","font":"DejaVu Sans, Noto Sans CJK JP","fontSize":24,"color":"#222"},
"encoding":{
"x":{"field":"x","type":"quantitative","scale":{"domain":[-1,10],"nice":false,"zero":false},"axis":null},
"y":{"field":"y","type":"quantitative","scale":{"type":"log","domain":[0.00001,10],"nice":false},"axis":null},
"text":{"field":"t"}}},
{"data":{"name":"rtau"},"mark":{"type":"text","align":"left","baseline":"middle","font":"DejaVu Sans","fontSize":24,"color":"#4a4a4a"},
"encoding":{
"x":{"field":"x","type":"quantitative","scale":{"domain":[-1,10],"nice":false,"zero":false},"axis":null},
"y":{"field":"y","type":"quantitative","scale":{"type":"log","domain":[0.00001,10],"nice":false},"axis":null},
"text":{"field":"t"}}},
{"data":{"name":"rside"},"mark":{"type":"text","align":"left","baseline":"middle","font":"DejaVu Sans","fontSize":24,"color":"#333"},
"encoding":{
"x":{"field":"x","type":"quantitative","scale":{"domain":[-1,10],"nice":false,"zero":false},"axis":null},
"y":{"field":"y","type":"quantitative","scale":{"type":"log","domain":[0.00001,10],"nice":false},"axis":null},
"text":{"field":"t"}}}
]}
]
}
